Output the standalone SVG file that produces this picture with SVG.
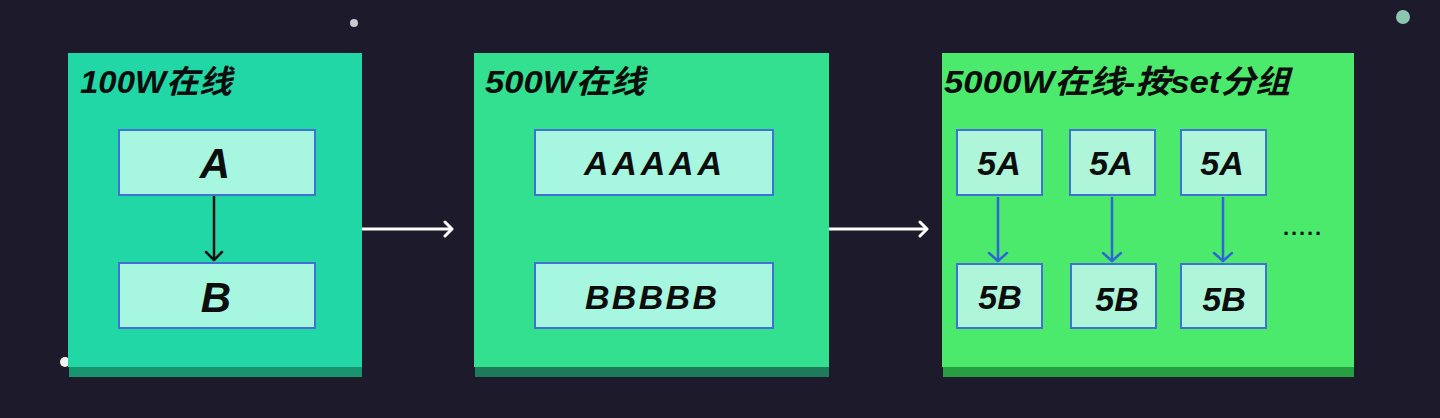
<svg xmlns="http://www.w3.org/2000/svg" width="1440" height="418" viewBox="0 0 1440 418">
<defs>
<style>
.title{font-family:"Liberation Sans","Noto Sans CJK SC",sans-serif;font-weight:bold;font-style:italic;font-size:32px;fill:#0d0d0d}
.big{font-family:"Liberation Sans",sans-serif;font-weight:bold;font-style:italic;font-size:42px;fill:#0d0d0d;text-anchor:middle}
.mid{font-family:"Liberation Sans",sans-serif;font-weight:bold;font-style:italic;font-size:34px;fill:#0d0d0d;text-anchor:middle}
.row{font-family:"Liberation Sans",sans-serif;font-weight:bold;font-style:italic;font-size:34px;fill:#0d0d0d}
.box{fill:#a6f6e0;stroke:#3f72d2;stroke-width:2}
.sbox{fill:#aef5da;stroke:#3f72d2;stroke-width:2}
.blk{stroke:#111;stroke-width:2.5;fill:none}
.blu{stroke:#2e66d8;stroke-width:2.5;fill:none}
.wht{stroke:#ffffff;stroke-width:3;fill:none}
</style>
<marker id="hb" markerWidth="20" markerHeight="20" refX="10" refY="10" orient="auto" markerUnits="userSpaceOnUse" viewBox="0 0 20 20">
<path d="M2,2 L10,10 L2,18" fill="none" stroke="#111" stroke-width="2.5" stroke-linecap="round" stroke-linejoin="round"/>
</marker>
<marker id="hu" markerWidth="20" markerHeight="22" refX="10" refY="11" orient="auto" markerUnits="userSpaceOnUse" viewBox="0 0 20 22">
<path d="M2,2 L10,11 L2,20" fill="none" stroke="#2e66d8" stroke-width="2.5" stroke-linecap="round" stroke-linejoin="round"/>
</marker>
<marker id="hw" markerWidth="16" markerHeight="18" refX="9" refY="9" orient="auto" markerUnits="userSpaceOnUse" viewBox="0 0 16 18">
<path d="M2,2 L9,9 L2,16" fill="none" stroke="#fff" stroke-width="3" stroke-linecap="round" stroke-linejoin="round"/>
</marker>
</defs>
<rect width="1440" height="418" fill="#1c1a2b"/>
<circle cx="354" cy="23" r="4" fill="#c9c9d2"/>
<circle cx="1403" cy="17" r="7" fill="#8cc6b0"/>
<circle cx="65" cy="362" r="5" fill="#f2f2f2"/>

<g id="panel1">
<rect x="69" y="362" width="293" height="15" fill="#18946f"/>
<rect x="68" y="53" width="294" height="314" fill="#22d7a6"/>
<text class="title" x="80" y="93" textLength="152" lengthAdjust="spacingAndGlyphs">100W在线</text>
</g>
<g id="nodeA">
<rect class="box" x="119" y="130" width="196" height="65"/>
<text class="big" x="215" y="178">A</text>
</g>
<g id="nodeB">
<rect class="box" x="119" y="263" width="196" height="65"/>
<text class="big" x="216" y="312">B</text>
</g>

<g id="panel2">
<rect x="475" y="362" width="354" height="15" fill="#1d7a5a"/>
<rect x="474" y="53" width="355" height="314" fill="#32e08f"/>
<text class="title" x="485" y="93" textLength="160" lengthAdjust="spacingAndGlyphs">500W在线</text>
</g>
<g id="nodeAAAAA">
<rect class="box" x="535" y="130" width="238" height="65"/>
<text class="row" x="584" y="175" textLength="138" lengthAdjust="spacing">AAAAA</text>
</g>
<g id="nodeBBBBB">
<rect class="box" x="535" y="263" width="238" height="65"/>
<text class="row" x="585" y="309" textLength="132" lengthAdjust="spacing">BBBBB</text>
</g>

<g id="panel3">
<rect x="943" y="362" width="411" height="15" fill="#279e41"/>
<rect x="942" y="53" width="412" height="314" fill="#4bea6c"/>
<text class="title" x="944" y="93" textLength="346" lengthAdjust="spacingAndGlyphs">5000W在线-按set分组</text>
<text x="1283" y="235" font-family="Liberation Sans, sans-serif" font-size="22" font-weight="bold" fill="#111" textLength="38" lengthAdjust="spacing">.....</text>
</g>
<g id="n5A1"><rect class="sbox" x="957" y="130" width="85" height="65"/><text class="mid" x="999" y="175">5A</text></g>
<g id="n5A2"><rect class="sbox" x="1070" y="130" width="85" height="65"/><text class="mid" x="1111" y="175">5A</text></g>
<g id="n5A3"><rect class="sbox" x="1181" y="130" width="85" height="65"/><text class="mid" x="1222" y="175">5A</text></g>
<g id="n5B1"><rect class="sbox" x="957" y="264" width="85" height="64"/><text class="mid" x="1000" y="309">5B</text></g>
<g id="n5B2"><rect class="sbox" x="1071" y="264" width="85" height="64"/><text class="mid" x="1117" y="311">5B</text></g>
<g id="n5B3"><rect class="sbox" x="1181" y="264" width="85" height="64"/><text class="mid" x="1224" y="311">5B</text></g>

<g id="connectors">
<line class="blk" x1="214" y1="196" x2="214" y2="260" marker-end="url(#hb)"/>
<line class="blu" x1="998" y1="197" x2="998" y2="261" marker-end="url(#hu)"/>
<line class="blu" x1="1112" y1="197" x2="1112" y2="261" marker-end="url(#hu)"/>
<line class="blu" x1="1223" y1="197" x2="1223" y2="261" marker-end="url(#hu)"/>
<line class="wht" x1="362" y1="229" x2="452" y2="229" marker-end="url(#hw)"/>
<line class="wht" x1="829" y1="229" x2="927" y2="229" marker-end="url(#hw)"/>
</g>
</svg>
